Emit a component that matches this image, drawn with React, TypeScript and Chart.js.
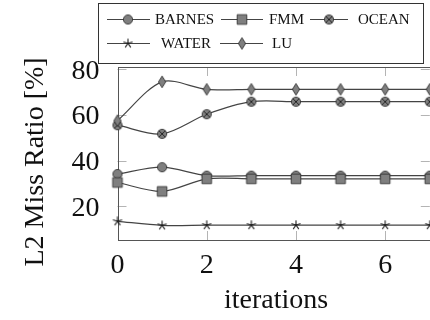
import React, { useEffect, useRef } from "react";
import { Chart, registerables } from "chart.js";

Chart.register(...registerables);

const iterations = [0, 1, 2, 3, 4, 5, 6, 7];
const barnes = [34.1, 37.1, 33.4, 33.4, 33.4, 33.4, 33.4, 33.4];
const fmm = [30.4, 26.5, 32.0, 32.0, 32.0, 32.0, 32.0, 32.0];
const ocean = [55.5, 51.7, 60.3, 65.8, 65.8, 65.8, 65.8, 65.8];
const water = [13.4, 11.6, 11.7, 11.7, 11.7, 11.7, 11.7, 11.7];
const lu = [57.5, 74.5, 71.2, 71.2, 71.2, 71.2, 71.2, 71.2];

const xTicks = [0, 2, 4, 6];
const yTicks = [20, 40, 60, 80];

const seriesNames = ["BARNES", "FMM", "OCEAN", "WATER", "LU"];
const seriesMarkers = ["circle", "square", "otimes", "star", "diamond"];

const SERIF = "'Liberation Serif', 'DejaVu Serif', serif";

function makeMarker(kind: string): HTMLCanvasElement {
  const c = document.createElement("canvas");
  c.width = 16;
  c.height = 16;
  const g = c.getContext("2d")!;
  g.translate(8, 8);
  g.fillStyle = "#7f7f7f";
  g.strokeStyle = "#333";
  g.lineWidth = 0.9;
  if (kind === "circle" || kind === "otimes") {
    g.beginPath();
    g.arc(0, 0, 4.6, 0, Math.PI * 2);
    g.fill();
    g.stroke();
    if (kind === "otimes") {
      const d = 4.6 * Math.SQRT1_2;
      g.strokeStyle = "#1a1a1a";
      g.beginPath();
      g.moveTo(-d, -d);
      g.lineTo(d, d);
      g.moveTo(-d, d);
      g.lineTo(d, -d);
      g.stroke();
    }
  } else if (kind === "square") {
    g.beginPath();
    g.rect(-4.8, -4.8, 9.6, 9.6);
    g.fill();
    g.stroke();
  } else if (kind === "diamond") {
    g.beginPath();
    g.moveTo(0, -5.8);
    g.lineTo(3.6, 0);
    g.lineTo(0, 5.8);
    g.lineTo(-3.6, 0);
    g.closePath();
    g.fill();
    g.stroke();
  } else if (kind === "star") {
    g.strokeStyle = "#1a1a1a";
    g.lineWidth = 1.1;
    g.beginPath();
    for (let k = 0; k < 5; k++) {
      const a = -Math.PI / 2 + (k * 2 * Math.PI) / 5;
      g.moveTo(0, 0);
      g.lineTo(Math.cos(a) * 4.8, Math.sin(a) * 4.8);
    }
    g.stroke();
  }
  return c;
}

export default function App() {
  const ref = useRef<HTMLCanvasElement>(null);

  useEffect(() => {
    const canvas = ref.current!;
    const markers = seriesMarkers.map(makeMarker);
    const allData = [barnes, fmm, ocean, water, lu];

    const framePlugin = {
      id: "frame",
      beforeDatasetsDraw(chart: any) {
        const ctx = chart.ctx;
        const { left, right, top, bottom } = chart.chartArea;
        ctx.save();
        ctx.strokeStyle = "#b4b4b4";
        ctx.lineWidth = 1;
        ctx.beginPath();
        xTicks.forEach((v) => {
          if (v === 0) return;
          const x = Math.round(chart.scales.x.getPixelForValue(v)) + 0.5;
          ctx.moveTo(x, bottom);
          ctx.lineTo(x, bottom - 9);
          ctx.moveTo(x, top);
          ctx.lineTo(x, top + 9);
        });
        yTicks.forEach((v) => {
          const y = Math.round(chart.scales.y.getPixelForValue(v)) + 0.5;
          ctx.moveTo(left, y);
          ctx.lineTo(left + 9, y);
          ctx.moveTo(right, y);
          ctx.lineTo(right - 9, y);
        });
        ctx.stroke();
        ctx.strokeStyle = "#555";
        ctx.lineWidth = 1;
        ctx.strokeRect(Math.round(left) + 0.5, Math.round(top) + 0.5, Math.round(right - left), Math.round(bottom - top));
        ctx.restore();
      },
      afterDraw(chart: any) {
        const ctx = chart.ctx;
        ctx.save();
        // axis titles
        ctx.fillStyle = "#111";
        ctx.font = `28px ${SERIF}`;
        ctx.textAlign = "center";
        ctx.textBaseline = "alphabetic";
        ctx.fillText("iterations", 276, 308);
        ctx.save();
        ctx.translate(43, 162);
        ctx.rotate(-Math.PI / 2);
        ctx.fillText("L2 Miss Ratio [%]", 0, 0);
        ctx.restore();

        // legend
        ctx.fillStyle = "#fff";
        ctx.fillRect(98.5, 3.5, 325, 60);
        ctx.strokeStyle = "#333";
        ctx.lineWidth = 1;
        ctx.strokeRect(98.5, 3.5, 325, 60);
        const entries = [
          { line: [107, 150], mx: 128, tx: 155, y: 19 },
          { line: [221, 263], mx: 242, tx: 269, y: 19 },
          { line: [310, 348], mx: 329, tx: 358, y: 19 },
          { line: [107, 150], mx: 128, tx: 161, y: 43 },
          { line: [220, 263], mx: 242, tx: 272, y: 43 },
        ];
        ctx.font = `15px ${SERIF}`;
        ctx.textAlign = "left";
        ctx.textBaseline = "middle";
        entries.forEach((e, i) => {
          ctx.strokeStyle = "#444";
          ctx.lineWidth = 1.1;
          ctx.beginPath();
          ctx.moveTo(e.line[0], e.y + 0.5);
          ctx.lineTo(e.line[1], e.y + 0.5);
          ctx.stroke();
          const m = markers[i];
          ctx.drawImage(m, e.mx - m.width / 2, e.y + 0.5 - m.height / 2);
          ctx.fillStyle = "#111";
          ctx.fillText(seriesNames[i], e.tx, e.y + 1);
        });
        ctx.restore();
      },
    };

    const chart = new Chart(canvas, {
      type: "line",
      data: {
        datasets: seriesNames.map((name, i) => ({
          label: name,
          data: iterations.map((x, j) => ({ x, y: allData[i][j] })),
          borderColor: "#444",
          borderWidth: 1.2,
          tension: 0.3,
          pointStyle: markers[i] as any,
          pointRadius: 5,
          clip: false as any,
          order: 5 - i,
        })),
      },
      options: {
        animation: false,
        responsive: false,
        maintainAspectRatio: false,
        devicePixelRatio: 1,
        layout: { padding: { top: 67, left: 0, right: 0, bottom: 0 } },
        plugins: { legend: { display: false }, tooltip: { enabled: false } },
        events: [],
        scales: {
          x: {
            type: "linear",
            min: 0,
            max: 7,
            grid: { display: false },
            border: { display: false },
            afterBuildTicks: (s: any) => {
              s.ticks = xTicks.map((v) => ({ value: v }));
            },
            afterFit: (s: any) => {
              s.height = 80;
            },
            ticks: {
              font: { family: SERIF, size: 28 },
              color: "#111",
              padding: 1,
              maxRotation: 0,
              autoSkip: false,
            },
          },
          y: {
            type: "linear",
            min: 5.2,
            max: 81,
            grid: { display: false },
            border: { display: false },
            afterBuildTicks: (s: any) => {
              s.ticks = yTicks.map((v) => ({ value: v }));
            },
            afterFit: (s: any) => {
              s.width = 117.5;
            },
            ticks: {
              font: { family: SERIF, size: 28 },
              color: "#111",
              padding: 10,
              labelOffset: 2,
              autoSkip: false,
            },
          },
        },
      },
      plugins: [framePlugin],
    });

    return () => chart.destroy();
  }, []);

  return (
    <div
      style={{
        position: "fixed",
        left: 0,
        top: 0,
        width: 430,
        height: 320,
        overflow: "hidden",
        background: "#fff",
      }}
    >
      <canvas ref={ref} width={436} height={320} style={{ display: "block", width: 436, height: 320 }} />
    </div>
  );
}
